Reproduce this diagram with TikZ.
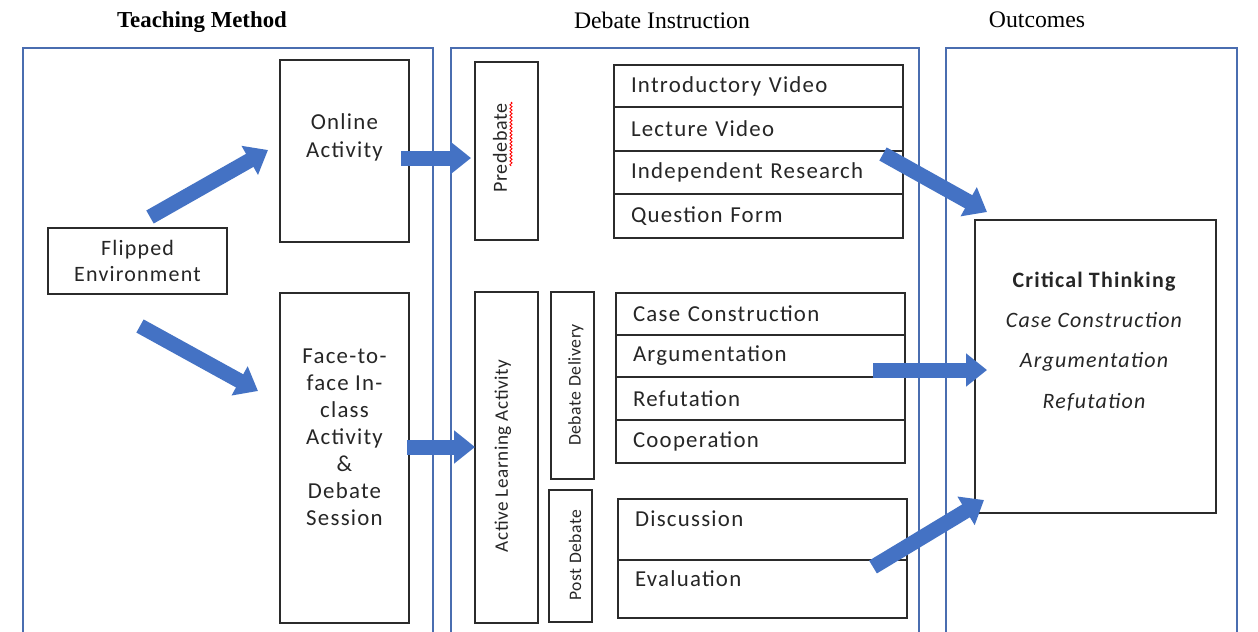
\documentclass[tikz,border=0pt]{standalone}
\usepackage{fontspec}
\setmainfont{Carlito}
\newfontfamily\wf{Carlito}[LetterSpace=5.5]
\newfontfamily\vf{Carlito}[LetterSpace=3]
\newfontfamily\hdr{Liberation Serif}
\usetikzlibrary{arrows.meta,decorations.pathmorphing}
\definecolor{arrowblue}{HTML}{4472C4}
\definecolor{panelblue}{HTML}{4A6DB0}
\definecolor{boxline}{HTML}{2B2B2B}
\definecolor{txtc}{HTML}{262626}
\newcommand\bodyfont{\wf\fontsize{13}{15.5}\selectfont}
\newcommand\vfont{\vf\fontsize{11.2}{13}\selectfont}
\begin{document}
\begin{tikzpicture}[x=0.02cm,y=-0.02cm,
  bw/.style={minimum width=#1*0.02cm},
  bh/.style={minimum height=#1*0.02cm},
  panel/.style={draw=panelblue, line width=0.75pt, inner sep=0pt},
  box/.style={draw=boxline, line width=0.85pt, inner sep=0pt, text=txtc, font=\bodyfont},
  rowbox/.style={box, bw=289, text width=255*0.02cm, inner xsep=17*0.02cm, align=left},
  txt/.style={text=txtc, font=\bodyfont, align=center, inner sep=0pt},
  vtxt/.style={text=txtc, font=\vfont, rotate=90, inner sep=0pt},
  hdrtxt/.style={text=black, font=\hdr\fontsize{13.5}{15}\selectfont, inner sep=0pt},
  blockarrow/.style={draw=arrowblue, line width=15*0.02cm, -{Triangle[length=21*0.02cm, width=32*0.02cm]}, arrowblue}
]
\path[use as bounding box, clip] (0,0) rectangle (1258,632);
\fill[white] (0,0) rectangle (1258,632);

% headers
\node[hdrtxt, font=\hdr\bfseries\fontsize{13}{15}\selectfont] (h1) at (202,22) {Teaching Method};
\node[hdrtxt] (h2) at (662,20) {Debate Instruction};
\node[hdrtxt] (h3) at (1037,20) {Outcomes};

% panels
\node[panel, bw=410, bh=620] (p1) at (228,358) {};
\node[panel, bw=468, bh=620] (p2) at (685,358) {};
\node[panel, bw=291, bh=620] (p3) at (1091.5,358) {};

% teaching method
\node[box, bw=179, bh=66, align=center, font=\wf\fontsize{12.5}{14.8}\selectfont] (flip) at (137.5,261) {Flipped\\Environment};
\node[box, bw=129, bh=182] (online) at (344.5,151) {};
\node[txt, font=\wf\fontsize{13}{16}\selectfont] (onlinet) at (344.5,137) {Online\\Activity};
\node[box, bw=129, bh=330] (face) at (344.5,458) {};
\node[txt, font=\wf\fontsize{13}{15.4}\selectfont] (facet) at (344.5,437) {Face-to-\\face In-\\class\\Activity\\\&\\Debate\\Session};

% debate instruction
\node[box, bw=63, bh=178] (pre) at (506.5,151) {};
\node[vtxt, font=\vf\fontsize{11.4}{13}\selectfont] (pret) at (500,148) {Predebate};
\draw[red, line width=0.5pt, decorate, decoration={snake, amplitude=0.6pt, segment length=2pt}] (511,102) -- (511,166);
\node[box, bw=63, bh=331] (act) at (506.5,457.5) {};
\node[vtxt, font=\vf\fontsize{10.9}{13}\selectfont] (actt) at (503,456) {Active Learning Activity};
\node[box, bw=43, bh=187] (deliv) at (572.5,385.5) {};
\node[vtxt, font=\vf\fontsize{10.1}{12}\selectfont] (delivt) at (576,385) {Debate Delivery};
\node[box, bw=43, bh=132] (post) at (570.5,556) {};
\node[vtxt, font=\vf\fontsize{10}{12}\selectfont] (postt) at (575,555) {Post Debate};

\node[rowbox, bh=42] (r11) at (758.5,86) {Introductory Video};
\node[rowbox, bh=44] (r12) at (758.5,129) {Lecture Video};
\node[rowbox, bh=43] (r13) at (758.5,172.5) {Independent Research};
\node[rowbox, bh=44] (r14) at (758.5,216) {Question Form};

\node[rowbox, bh=42] (r21) at (760.5,314) {Case Construction};
\node[rowbox, bh=42] (r22) at (760.5,356) {Argumentation};
\node[rowbox, bh=43] (r23) at (760.5,398.5) {Refutation};
\node[rowbox, bh=43] (r24) at (760.5,441.5) {Cooperation};

\node[rowbox, bh=61, text height=9pt, text depth=12pt] (r31) at (762.5,529.5) {Discussion};
\node[rowbox, bh=58, text height=9pt, text depth=12pt] (r32) at (762.5,589) {Evaluation};

% outcomes
\node[box, bw=241, bh=293] (crit) at (1095.5,366.5) {};
\node[txt, font=\wf\fontsize{12.5}{22.8}\selectfont] (critt) at (1094,341.5) {{\bfseries Critical Thinking}\\\itshape Case Construction\\\itshape Argumentation\\\itshape Refutation};

% arrow end points
\coordinate (a1s) at (150,217); \coordinate (a1e) at (268,150);
\coordinate (a2s) at (140,326); \coordinate (a2e) at (258,391);
\coordinate (a3s) at (401,158); \coordinate (a3e) at (471,158);
\coordinate (a4s) at (407,447); \coordinate (a4e) at (475,447);
\coordinate (a5s) at (883,154); \coordinate (a5e) at (987,212);
\coordinate (a6s) at (873,370); \coordinate (a6e) at (987,370);
\coordinate (a7s) at (873,567); \coordinate (a7e) at (984,500);

\draw[blockarrow] (a1s) -- (a1e);
\draw[blockarrow] (a2s) -- (a2e);
\draw[blockarrow] (a3s) -- (a3e);
\draw[blockarrow] (a4s) -- (a4e);
\draw[blockarrow] (a5s) -- (a5e);
\draw[blockarrow] (a6s) -- (a6e);
\draw[blockarrow] (a7s) -- (a7e);
\end{tikzpicture}
\end{document}
